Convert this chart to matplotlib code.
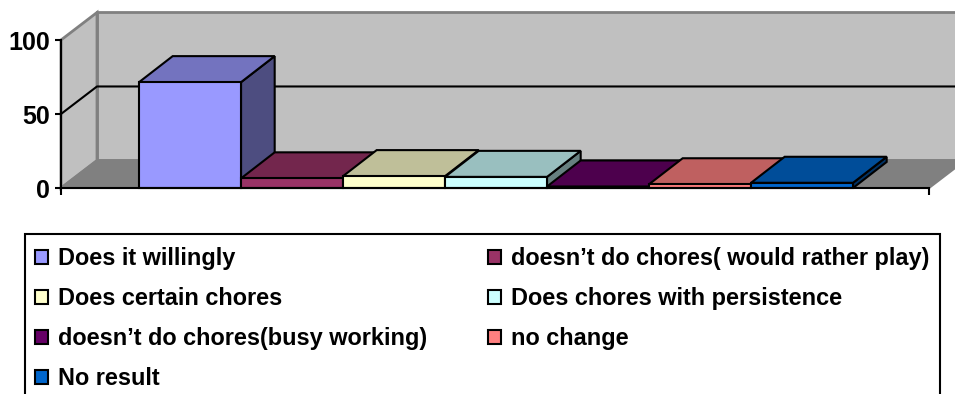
import matplotlib
matplotlib.use('Agg')
import matplotlib.pyplot as plt
from matplotlib.patches import Polygon, Rectangle
from matplotlib.colors import to_rgb

plt.rcParams['font.family'] = ['Liberation Sans', 'DejaVu Sans']
plt.rcParams['font.weight'] = 'bold'

categories = [
    'Does it willingly',
    'doesn\u2019t do chores( would rather play)',
    'Does certain chores',
    'Does chores with persistence',
    'doesn\u2019t do chores(busy working)',
    'no change',
    'No result',
]
values = [71.5, 6.5, 8, 7.5, 1, 2.5, 3.5]
colors = ['#9999FF', '#993366', '#FFFFCC', '#CCFFFF', '#660066', '#FF8080', '#0066CC']
y_ticks = [0, 50, 100]

fig = plt.figure(figsize=(9.55, 3.94), dpi=100)
# axes box = front plane of the 3d chart
ax = fig.add_axes([61 / 955, 1 - 188 / 394, (929 - 61) / 955, (188 - 40) / 394])
ax.set_xlim(-0.765, 7.745)
ax.set_ylim(0, 100)
ax.patch.set_visible(False)

x0, x1 = ax.get_xlim()
wall_dx = 0.353
wall_dy = 18.6
bar_dx = 0.33
bar_dy = 17.6


def face(points, color, edge, lw=1.5, z=1):
    ax.add_patch(Polygon(points, closed=True, facecolor=color, edgecolor=edge,
                         linewidth=lw, clip_on=False, zorder=z, joinstyle='miter'))


def darker(color, k):
    return tuple(c * k for c in to_rgb(color))


# walls and floor
face([(x0 + wall_dx, wall_dy), (x1 + wall_dx, wall_dy), (x1 + wall_dx, 100 + wall_dy), (x0 + wall_dx, 100 + wall_dy)],
     '#C0C0C0', '#808080', 2)
face([(x0, 0), (x0 + wall_dx, wall_dy), (x0 + wall_dx, 100 + wall_dy), (x0, 100)], '#C0C0C0', '#808080', 2)
face([(x0, 0), (x1, 0), (x1 + wall_dx, wall_dy), (x0 + wall_dx, wall_dy)], '#808080', '#808080', 1.5)

# gridline at 50 runs along both walls
ax.plot([x0, x0 + wall_dx, x1 + wall_dx], [50, 50 + wall_dy, 50 + wall_dy], color='black', lw=1.5,
        clip_on=False, zorder=2)

# bars, left to right
for i, (name, v, c) in enumerate(zip(categories, values, colors)):
    z = 3 + i
    face([(i + 1, 0), (i + 1 + bar_dx, bar_dy), (i + 1 + bar_dx, v + bar_dy), (i + 1, v)], darker(c, 0.5), 'black', 1.5, z)
    face([(i, v), (i + 1, v), (i + 1 + bar_dx, v + bar_dy), (i + bar_dx, v + bar_dy)], darker(c, 0.75), 'black', 1.5, z)
    ax.bar(i, v, width=1, align='edge', color=c, edgecolor='black', linewidth=1.5,
           label=name, clip_on=False, zorder=z + 0.5)

for s in ['top', 'right']:
    ax.spines[s].set_visible(False)
for s in ['left', 'bottom']:
    ax.spines[s].set_linewidth(1.5)
    ax.spines[s].set_zorder(20)

ax.set_yticks(y_ticks)
ax.set_xticks([x0, x1])
ax.set_xticklabels([])
ax.tick_params(axis='y', length=4, width=1.5, labelsize=18, pad=4)
ax.tick_params(axis='x', length=5, width=1.5)

# box of the legend runs off the bottom of the picture
fig.add_artist(Rectangle((24.5 / 955, -0.05), (939.5 - 24.5) / 955, 1 - 234 / 394 + 0.05,
                         transform=fig.transFigure, facecolor='white', edgecolor='black', linewidth=1.5))

# legend fills column by column, reference reads row by row
handles, labels = ax.get_legend_handles_labels()
order = [0, 2, 4, 6, 1, 3, 5]
leg = fig.legend([handles[i] for i in order], [labels[i] for i in order], ncols=2,
                 loc='upper left', bbox_to_anchor=(35 / 955, 1 - 247 / 394), borderaxespad=0,
                 prop={'weight': 'bold', 'size': 16.9},
                 handlelength=0.56, handleheight=0.56, handletextpad=0.42,
                 columnspacing=2.6, labelspacing=0.73, borderpad=0, frameon=False)

fig.savefig('out.png', dpi=100)
